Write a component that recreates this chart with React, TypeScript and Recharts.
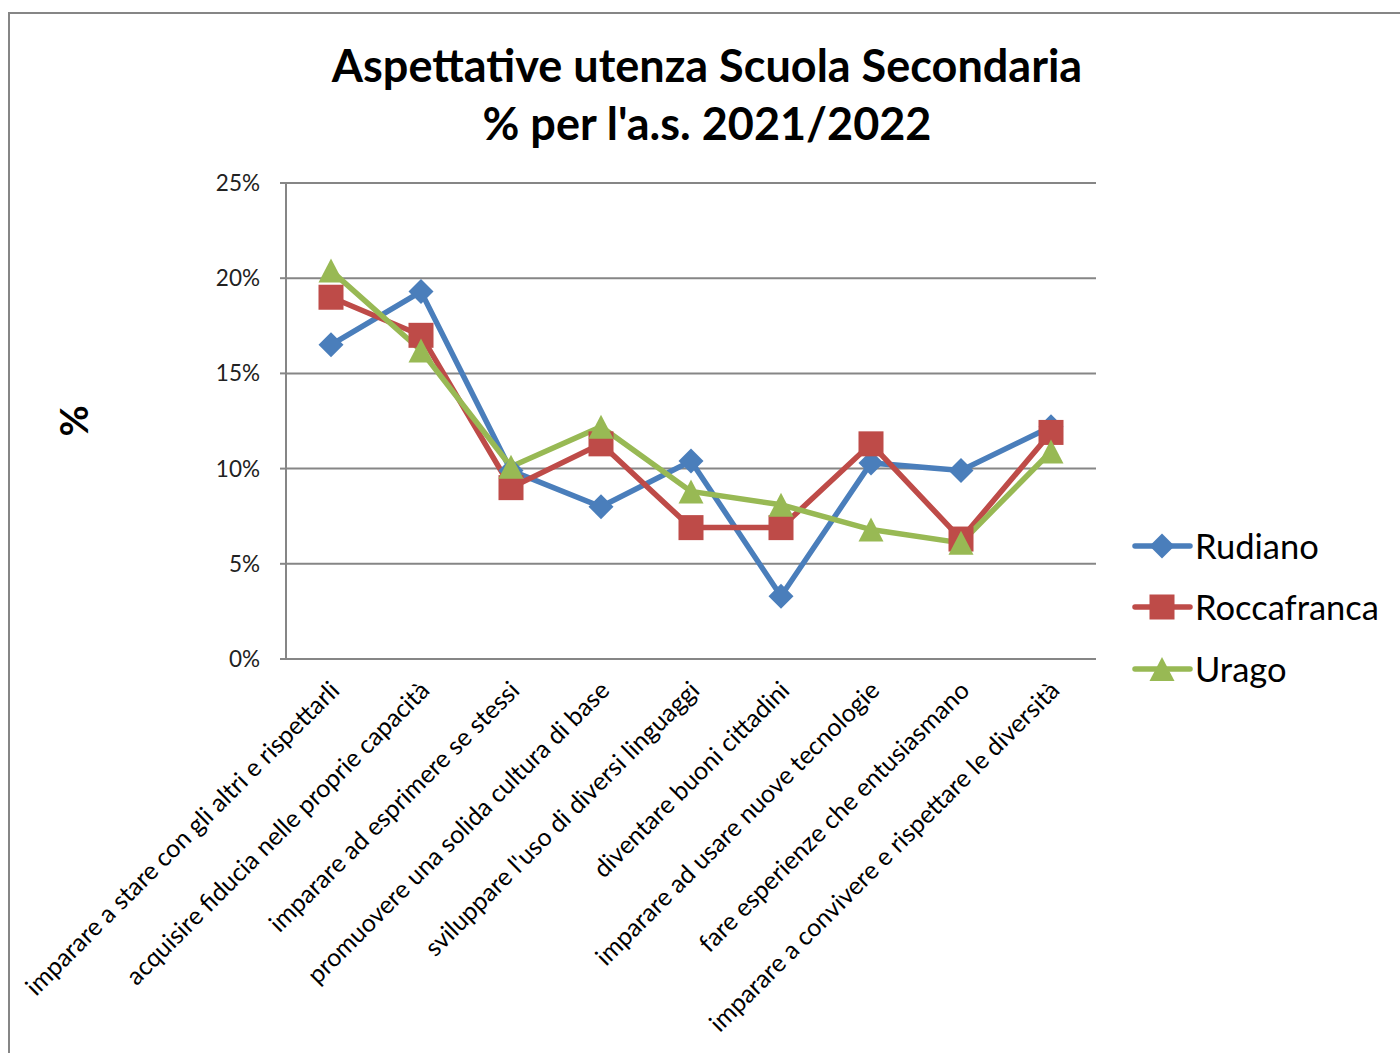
import React from 'react';
import { LineChart, Line, XAxis, YAxis, CartesianGrid } from 'recharts';

const categories = [
  'imparare a stare con gli altri e rispettarli',
  'acquisire fiducia nelle proprie capacità',
  'imparare ad esprimere se stessi',
  'promuovere una solida cultura di base',
  "sviluppare l'uso di diversi linguaggi",
  'diventare buoni cittadini',
  'imparare ad usare nuove tecnologie',
  'fare esperienze che entusiasmano',
  'imparare a convivere e rispettare le diversità',
];
const rudiano = [16.5, 19.3, 9.9, 8.0, 10.4, 3.3, 10.3, 9.9, 12.2];
const roccafranca = [19.0, 17.0, 9.0, 11.3, 6.9, 6.9, 11.3, 6.3, 11.9];
const urago = [20.4, 16.2, 10.1, 12.2, 8.8, 8.1, 6.8, 6.1, 10.9];
const yTicks = [0, 5, 10, 15, 20, 25];

const seriesNames = ['Rudiano', 'Roccafranca', 'Urago'];
const seriesColors = ['#4A7EBB', '#BE4B48', '#98B954'];

const data = categories.map((c, i) => ({
  name: c,
  Rudiano: rudiano[i],
  Roccafranca: roccafranca[i],
  Urago: urago[i],
}));

const FONT = 'Lato, "Open Sans", sans-serif';
const GRID = '#868686';

function Marker({ kind, cx, cy, color }: { kind: number; cx: number; cy: number; color: string }) {
  if (kind === 0) {
    const r = 12.5;
    return <polygon points={`${cx},${cy - r} ${cx + r},${cy} ${cx},${cy + r} ${cx - r},${cy}`} fill={color} />;
  }
  if (kind === 1) {
    const s = 25;
    return <rect x={cx - s / 2} y={cy - s / 2} width={s} height={s} fill={color} />;
  }
  const w = 25;
  const h = 24;
  return <polygon points={`${cx},${cy - h / 2} ${cx + w / 2},${cy + h / 2} ${cx - w / 2},${cy + h / 2}`} fill={color} />;
}

const makeDot = (kind: number, color: string) => (props: any) => {
  const { cx, cy, index } = props;
  if (cx == null || cy == null) return <g key={`d-${kind}-${index}`} />;
  return (
    <g key={`d-${kind}-${index}`}>
      <Marker kind={kind} cx={cx} cy={cy} color={color} />
    </g>
  );
};

const XTick = (props: any) => {
  const { x, y, payload } = props;
  return (
    <g transform={`translate(${x + 10},${y + 25})`}>
      <text x={0} y={0} dy={0} textAnchor="end" transform="rotate(-45)" fontSize={25} fontFamily={FONT} fill="#000">
        {payload.value}
      </text>
    </g>
  );
};

const YTick = (props: any) => {
  const { x, y, payload } = props;
  return (
    <text x={x - 18} y={y} dy={8} textAnchor="end" fontSize={22.5} fontFamily={FONT} fill="#222">
      {`${payload.value}%`}
    </text>
  );
};

const YLabel = (props: any) => {
  const { viewBox } = props;
  const cx = 73;
  const cy = viewBox.y + viewBox.height / 2;
  return (
    <text x={cx} y={cy} transform={`rotate(-90, ${cx}, ${cy})`} textAnchor="middle" dominantBaseline="central" fontSize={38} fontWeight="bold" fontFamily={FONT} fill="#000">
      %
    </text>
  );
};

export default function App() {
  return (
    <div style={{ position: 'absolute', left: 0, top: 0, width: 1400, height: 1053, overflow: 'hidden', background: '#fff' }}>
      <div style={{ position: 'absolute', left: 8, top: 12, width: 1500, height: 1200, borderLeft: `2px solid ${GRID}`, borderTop: `2px solid ${GRID}` }} />
      <div style={{ position: 'absolute', left: 0, top: 36, width: 1414, textAlign: 'center', fontFamily: FONT, fontWeight: 'bold', fontSize: 45, lineHeight: '58px', color: '#000' }}>
        <div>Aspettative utenza Scuola Secondaria</div>
        <div>% per l'a.s. 2021/2022</div>
      </div>
      <div style={{ position: 'absolute', left: 0, top: 0 }}>
        <LineChart width={1400} height={1053} data={data} margin={{ top: 183, left: 226, right: 304, bottom: 14 }}>
          <CartesianGrid horizontal={true} vertical={false} stroke={GRID} strokeWidth={2} />
          <XAxis
            dataKey="name"
            height={380}
            interval={0}
            padding={{ left: 45, right: 45 }}
            tickLine={false}
            axisLine={{ stroke: GRID, strokeWidth: 2 }}
            tick={<XTick />}
          />
          <YAxis
            width={60}
            domain={[0, 25]}
            ticks={yTicks}
            interval={0}
            tickSize={6}
            tickLine={{ stroke: GRID, strokeWidth: 2 }}
            axisLine={{ stroke: GRID, strokeWidth: 2 }}
            tick={<YTick />}
            label={<YLabel />}
          />
          {seriesNames.map((n, i) => (
            <Line
              key={n}
              dataKey={n}
              stroke={seriesColors[i]}
              strokeWidth={5.5}
              dot={makeDot(i, seriesColors[i])}
              activeDot={false}
              isAnimationActive={false}
            />
          ))}
        </LineChart>
      </div>
      <div style={{ position: 'absolute', left: 1131, top: 515, width: 280, fontFamily: FONT }}>
        {seriesNames.map((n, i) => (
          <div key={n} style={{ display: 'flex', alignItems: 'center', height: 61.5 }}>
            <svg width={64} height={30} style={{ display: 'block', flex: 'none' }}>
              <line x1={4} y1={15} x2={59} y2={15} stroke={seriesColors[i]} strokeWidth={5.5} strokeLinecap="round" />
              <Marker kind={i} cx={31} cy={15} color={seriesColors[i]} />
            </svg>
            <span style={{ fontSize: 34.5, color: '#000', lineHeight: '34px', whiteSpace: 'nowrap' }}>{n}</span>
          </div>
        ))}
      </div>
    </div>
  );
}
